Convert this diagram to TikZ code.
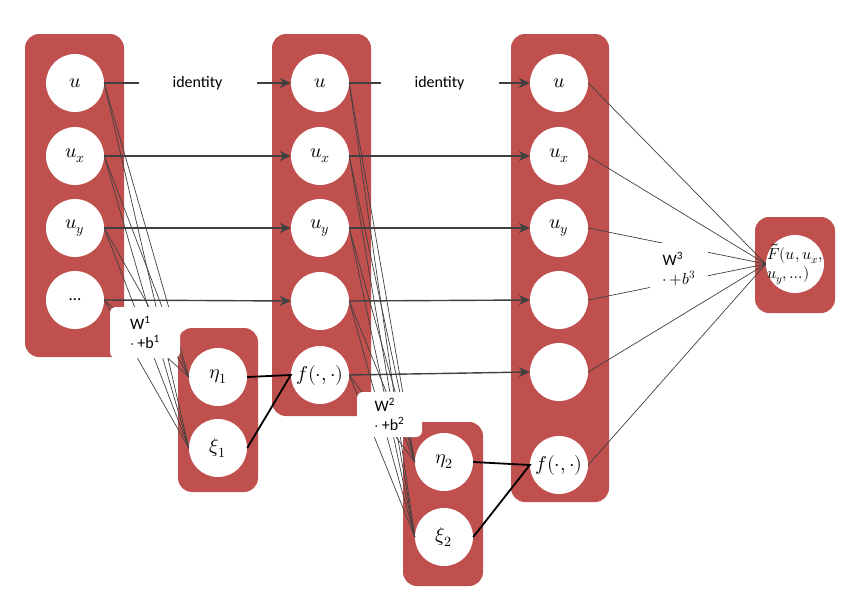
\documentclass[tikz,border=0pt]{standalone}
\usepackage{fontspec}
\usepackage{unicode-math}
\setmainfont{Carlito}
\setmathfont{Latin Modern Math}
\usetikzlibrary{arrows.meta}
\definecolor{blockred}{HTML}{C0504D}
\definecolor{lineg}{HTML}{404040}
\begin{document}
\begin{tikzpicture}[x=1pt,y=-1pt,
  block/.style={fill=blockred, rounded corners=14pt},
  neuron/.style={circle, fill=white, minimum size=58pt, inner sep=0pt, font=\fontsize{20}{24}\selectfont},
  wline/.style={draw=lineg, line width=0.7pt},
  arr/.style={draw=lineg, line width=1.4pt, -{Stealth[length=11pt,width=10pt]}},
  agg/.style={draw=black, line width=1.8pt},
  wlabel/.style={fill=white, rounded corners=6pt, align=left, inner sep=0pt, font=\fontsize{16}{19}\selectfont},
  idlabel/.style={fill=white, minimum width=118pt, minimum height=20pt, inner sep=0pt, font=\fontsize{16}{19}\selectfont}
]
\useasboundingbox (0,0) rectangle (860,605);
% blocks
\path[block] (25,34) rectangle (124,357);
\path[block] (272,34) rectangle (371,416);
\path[block] (511,34) rectangle (609,502);
\path[block] (178,328) rectangle (258,492);
\path[block] (403,422) rectangle (483,586);
\path[block] (755,217) rectangle (835,313);
% neuron positions
\path
  (75,83) coordinate (pa1) (75,156) coordinate (pa2) (75,228) coordinate (pa3) (75,300) coordinate (pa4)
  (320,83) coordinate (pb1) (320,156) coordinate (pb2) (320,228) coordinate (pb3) (320,301) coordinate (pb4) (320,375) coordinate (pb5)
  (559,83) coordinate (pc1) (559,156) coordinate (pc2) (559,228) coordinate (pc3) (559,300) coordinate (pc4) (559,372) coordinate (pc5) (559,465) coordinate (pc6)
  (218,377) coordinate (peta1) (218,448) coordinate (pxi1)
  (444,462) coordinate (peta2) (444,537) coordinate (pxi2)
  (795,264) coordinate (pout);
% neurons
\node[neuron] (a1) at (pa1) {$u$};
\node[neuron] (a2) at (pa2) {$u_x$};
\node[neuron] (a3) at (pa3) {$u_y$};
\node[neuron, font=\fontsize{17}{20}\selectfont] (a4) at (pa4) {…};
\node[neuron] (b1) at (pb1) {$u$};
\node[neuron] (b2) at (pb2) {$u_x$};
\node[neuron] (b3) at (pb3) {$u_y$};
\node[neuron] (b4) at (pb4) {};
\node[neuron] (b5) at (pb5) {$f(\cdot,\cdot)$};
\node[neuron] (c1) at (pc1) {$u$};
\node[neuron] (c2) at (pc2) {$u_x$};
\node[neuron] (c3) at (pc3) {$u_y$};
\node[neuron] (c4) at (pc4) {};
\node[neuron] (c5) at (pc5) {};
\node[neuron] (c6) at (pc6) {$f(\cdot,\cdot)$};
\node[neuron] (eta1) at (peta1) {$\eta_1$};
\node[neuron] (xi1) at (pxi1) {$\xi_1$};
\node[neuron] (eta2) at (peta2) {$\eta_2$};
\node[neuron] (xi2) at (pxi2) {$\xi_2$};
\node[neuron] (out) at (pout) {};
% weight lines layer 1
\foreach \s in {a1,a2,a3,a4}{
  \draw[wline] (\s.east) -- (eta1.west);
  \draw[wline] (\s.east) -- (xi1.west);
}
% weight lines layer 2
\foreach \s in {b1,b2,b3,b4,b5}{
  \draw[wline] (\s.east) -- (eta2.west);
  \draw[wline] (\s.east) -- (xi2.west);
}
% weight lines layer 3
\foreach \s in {c1,c2,c3,c4,c5,c6}{
  \draw[wline] (\s.east) -- (out.west);
}
% weight labels
\node[wlabel, minimum width=70pt, minimum height=51pt] (w1) at (145,332.5) {W\textsuperscript{1}\\$\cdot$\,+b\textsuperscript{1}};
\node[wlabel, minimum width=65pt, minimum height=45pt] (w2) at (389.5,414.5) {W\textsuperscript{2}\\$\cdot$\,+b\textsuperscript{2}};
\node[wlabel, rounded corners=0pt, minimum width=58pt, minimum height=52pt] (w3) at (679,269) {W\textsuperscript{3}\\$\cdot\,{+}b^3$};
% identity / skip arrows
\draw[arr] (a1.east) -- node[idlabel] {identity} (b1.west);
\draw[arr] (a2.east) -- (b2.west);
\draw[arr] (a3.east) -- (b3.west);
\draw[arr] (a4.east) -- (b4.west);
\draw[arr] (b1.east) -- node[idlabel] {identity} (c1.west);
\draw[arr] (b2.east) -- (c2.west);
\draw[arr] (b3.east) -- (c3.west);
\draw[arr] (b4.east) -- (c4.west);
\draw[arr] (b5.east) -- (c5.west);
% aggregation lines
\draw[agg] (eta1.east) -- (b5.west) -- (xi1.east);
\draw[agg] (eta2.east) -- (c6.west) -- (xi2.east);
% output label
\node[align=left, inner sep=0pt, font=\fontsize{16}{19}\selectfont] (outlbl) at (pout) {$\tilde{F}(u,u_x,$\\$u_y,…)$};
\end{tikzpicture}
\end{document}
